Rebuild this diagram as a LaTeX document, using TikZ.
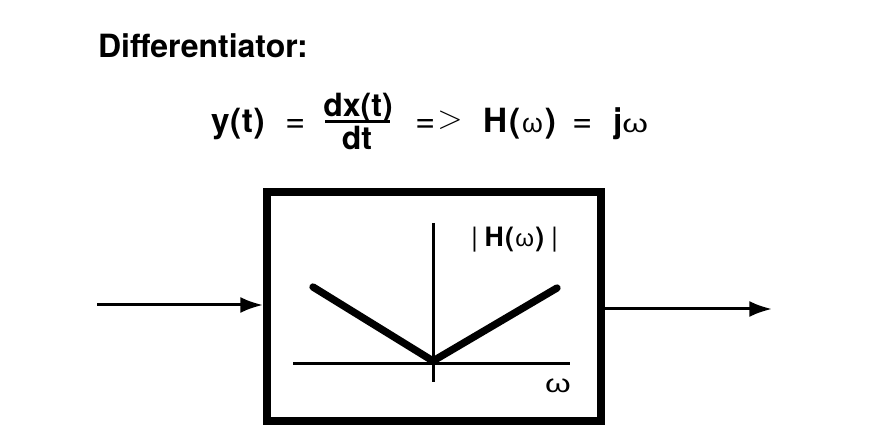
\documentclass[tikz,border=0pt]{standalone}
\usepackage{fontspec}
\setmainfont{TeX Gyre Heros}
\newfontfamily\grk{Liberation Sans}
\usetikzlibrary{arrows.meta}
\newcommand{\omsmall}{{\grk\mdseries\fontsize{20}{22}\selectfont ω}}
\newcommand{\omwide}{{\grk\mdseries\fontsize{19}{22}\selectfont\scalebox{1.3}[1]{ω}}}
\begin{document}
\begin{tikzpicture}[x=0.75pt,y=-0.75pt,
  txt/.style={inner sep=0pt, outer sep=0pt, text=black},
  eqf/.style={txt, font=\bfseries\fontsize{25}{28}\selectfont},
  frf/.style={txt, font=\bfseries\fontsize{24}{26}\selectfont},
  eqs/.style={txt, font=\mdseries\fontsize{26}{30}\selectfont},
  arr/.style={line width=2.25pt, -{Latex[length=17pt,width=12pt]}},
  axis/.style={line width=2.25pt},
  curve/.style={line width=5.5pt, line cap=round, line join=round}]
\useasboundingbox (0,0) rectangle (878,445);
% title
\node[txt, anchor=base west, font=\bfseries\fontsize{24}{28}\selectfont] (title) at (98,58) {Differentiator:};
% equation
\node[eqf, anchor=base west] (yt) at (211,133) {y\kern0.5pt(\kern0.5pt t\kern0.5pt)};
\node[eqs, anchor=base] (eqa) at (296,133) {=};
\node[frf, anchor=base] (num) at (358,117) {dx(t)};
\node[frf, anchor=base] (den) at (357,150) {dt};
\draw[line width=2.25pt] (325,122) -- (390,122);
\node[eqs, anchor=base] (eqi) at (426,133) {=};
\node[txt, font=\fontsize{31}{34}\selectfont] (gt) at (450,120) {$>$};
\node[eqf, anchor=base west] (Hw) at (483,133) {H\kern1.5pt(\kern1.5pt\omsmall\kern1.5pt)};
\node[eqs, anchor=base] (eqb) at (583,133) {=};
\node[eqf, anchor=base west] (jw) at (613,133) {j\omwide};
% box
\node[draw, line width=6pt, minimum width=250.5pt, minimum height=171.75pt, inner sep=0pt] (box) at (434,306.5) {};
% arrows
\coordinate (in) at (97,305);
\coordinate (out) at (772,309);
\draw[arr] (in) -- (in -| box.west);
\draw[arr] (box.east |- out) -- (out);
% plot
\coordinate (vt) at (433,223);
\coordinate (vb) at (433,382);
\coordinate (hl) at (293,363);
\coordinate (hr) at (570,363);
\draw[axis] (vt) -- (vb);
\draw[axis] (hl) -- (hr);
\coordinate (cl) at (313,287);
\coordinate (c0) at (433,361);
\coordinate (cr) at (557,288);
\draw[curve] (cl) -- (c0) -- (cr);
\node[txt, anchor=base west, font=\bfseries\fontsize{20}{24}\selectfont] (mag) at (471,247) {{\mdseries|}\kern5pt H\kern1pt(\kern1pt{\grk\mdseries\fontsize{18}{20}\selectfont ω}\kern1pt)\kern5pt{\mdseries|}};
\node[txt] (wl) at (558,386) {\omwide};
\end{tikzpicture}
\end{document}
